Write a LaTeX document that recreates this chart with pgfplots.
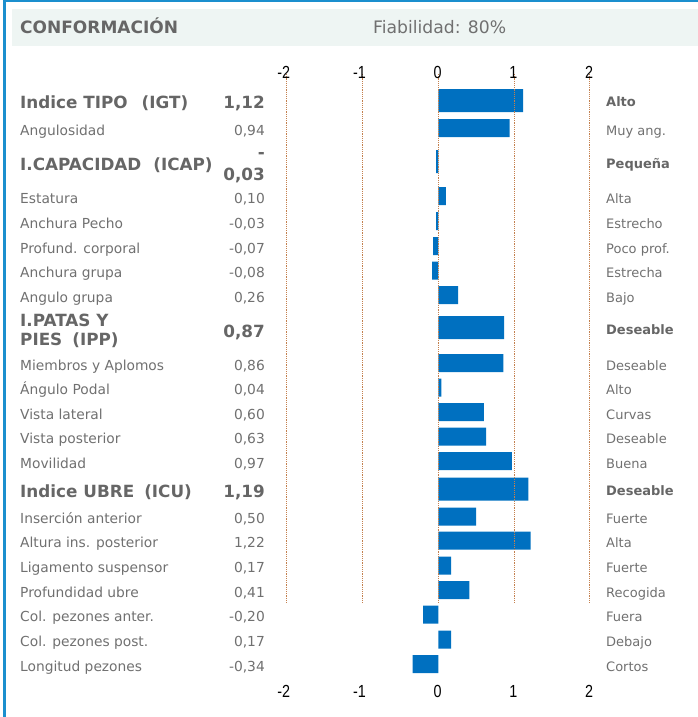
\documentclass[border=0pt]{standalone}
\usepackage{pgfplots}
\pgfplotsset{compat=1.18}
\usepackage{fontspec}
\setmainfont{DejaVu Sans}
\newfontfamily\tickfont[FakeStretch=0.82]{Liberation Sans}
\definecolor{barblue}{HTML}{0070C0}
\definecolor{frameblue}{HTML}{1B8FCE}
\definecolor{headbg}{HTML}{EEF5F3}
\definecolor{txt}{HTML}{707070}
\definecolor{btxt}{HTML}{666666}
\definecolor{gridc}{HTML}{C4804E}
\newcommand{\lab}{\fontsize{13.8bp}{16bp}\selectfont}
\newcommand{\blab}{\fontsize{16.8bp}{19bp}\selectfont\bfseries}
\newcommand{\rlab}{\fontsize{13bp}{15bp}\selectfont}
\newcommand{\rblab}{\fontsize{13bp}{15bp}\selectfont\bfseries}
\newcommand{\tlab}{\tickfont\fontsize{17.5bp}{19bp}\selectfont}
\tikzset{
  L/.style={anchor=base west, inner sep=0pt, font=\lab, text=txt},
  V/.style={anchor=base east, inner sep=0pt, font=\lab, text=txt},
  R/.style={anchor=base west, inner sep=0pt, font=\rlab, text=txt},
  BL/.style={anchor=base west, inner sep=0pt, font=\blab, text=btxt},
  BV/.style={anchor=base east, inner sep=0pt, font=\blab, text=btxt},
  BR/.style={anchor=base west, inner sep=0pt, font=\rblab, text=btxt},
}
\newcommand{\row}[4]{%
  \node[L] at (20,#1+7) {#2};
  \node[V] at (265,#1+7) {#3};
  \node[R] at (606,#1+7) {#4};
}
\begin{document}
\begin{tikzpicture}
\path[use as bounding box] (0,0) rectangle (698bp,-717bp);
\begin{scope}[x=1bp,y=-1bp]
  \fill[headbg] (12,9) rectangle (698,46);
  \fill[frameblue] (3,0) rectangle (6,717);
  \fill[frameblue] (3,0) rectangle (698,2.2);
\end{scope}
\begin{axis}[
  at={(0,0)}, anchor=north west,
  scale only axis, width=698bp, height=717bp,
  xmin=-5.7861, xmax=3.4284,
  ymin=0, ymax=717, y dir=reverse,
  axis lines=none, clip=false,
]
\addplot[xbar, bar shift=0pt, bar width=23, fill=barblue, draw=none]
  coordinates {(1.12,100.5) (-0.03,161.5) (0.87,327.5) (1.19,489)};
\addplot[xbar, bar shift=0pt, bar width=18, fill=barblue, draw=none]
  coordinates {
  (0.94,128) (0.10,196) (-0.03,221) (-0.07,246) (-0.08,270.5) (0.26,295)
  (0.86,363) (0.04,387.5) (0.60,412) (0.63,436.5) (0.97,461)
  (0.50,516.5) (1.22,540.5) (0.17,565.5) (0.41,590) (-0.20,614.5)
  (0.17,639.5) (-0.34,664)};
\pgfplotsinvokeforeach{-2,-1,0,1,2}{
  \draw[gridc, line width=1.1bp, dash pattern=on 1.1bp off 1.1bp]
    (axis cs:#1,74) -- (axis cs:#1,603);
  \node[anchor=base east, inner sep=0pt, font=\tlab, text=black]
    at (axis cs:#1+0.047,78) {#1};
  \node[anchor=base east, inner sep=0pt, font=\tlab, text=black]
    at (axis cs:#1+0.047,697) {#1};
}
\end{axis}
\begin{scope}[x=1bp,y=-1bp]
  \node[anchor=base west, inner sep=0pt, font=\fontsize{17bp}{19bp}\selectfont\bfseries, text=btxt] at (20,33.5) {CONFORMACIÓN};
  \node[anchor=base west, inner sep=0pt, font=\fontsize{17.2bp}{19bp}\selectfont, text=txt] at (373,33.5) {Fiabilidad: 80\%};
  % bold rows
  \node[BL] at (20,108.3) {Indice TIPO\hspace{14bp}(IGT)};
  \node[BV] at (265,108.3) {1,12};
  \node[BR] at (606,106.7) {Alto};
  \node[BL] at (20,170) {I.CAPACIDAD\hspace{12bp}(ICAP)};
  \node[BV] at (265,158.5) {-};
  \node[BV] at (265,180) {0,03};
  \node[BR] at (606,168.3) {Pequeña};
  \node[BL] at (20,326.7) {I.PATAS Y};
  \node[BL] at (20,345.5) {PIES\hspace{10bp}(IPP)};
  \node[BV] at (265,337.3) {0,87};
  \node[BR] at (606,334.5) {Deseable};
  \node[BL] at (20,497.3) {Indice UBRE\hspace{10bp}(ICU)};
  \node[BV] at (265,497.3) {1,19};
  \node[BR] at (606,495.5) {Deseable};
  % regular rows
  \row{128}{Angulosidad}{0,94}{Muy ang.}
  \row{196}{Estatura}{0,10}{Alta}
  \row{221}{Anchura Pecho}{-0,03}{Estrecho}
  \row{246}{Profund. corporal}{-0,07}{Poco prof.}
  \row{270.5}{Anchura grupa}{-0,08}{Estrecha}
  \row{295}{Angulo grupa}{0,26}{Bajo}
  \row{363}{Miembros y Aplomos}{0,86}{Deseable}
  \row{387.5}{Ángulo Podal}{0,04}{Alto}
  \row{412}{Vista lateral}{0,60}{Curvas}
  \row{436.5}{Vista posterior}{0,63}{Deseable}
  \row{461}{Movilidad}{0,97}{Buena}
  \row{516.5}{Inserción anterior}{0,50}{Fuerte}
  \row{540.5}{Altura ins. posterior}{1,22}{Alta}
  \row{565.5}{Ligamento suspensor}{0,17}{Fuerte}
  \row{590}{Profundidad ubre}{0,41}{Recogida}
  \row{614.5}{Col. pezones anter.}{-0,20}{Fuera}
  \row{639.5}{Col. pezones post.}{0,17}{Debajo}
  \row{664}{Longitud pezones}{-0,34}{Cortos}
\end{scope}
\end{tikzpicture}
\end{document}
